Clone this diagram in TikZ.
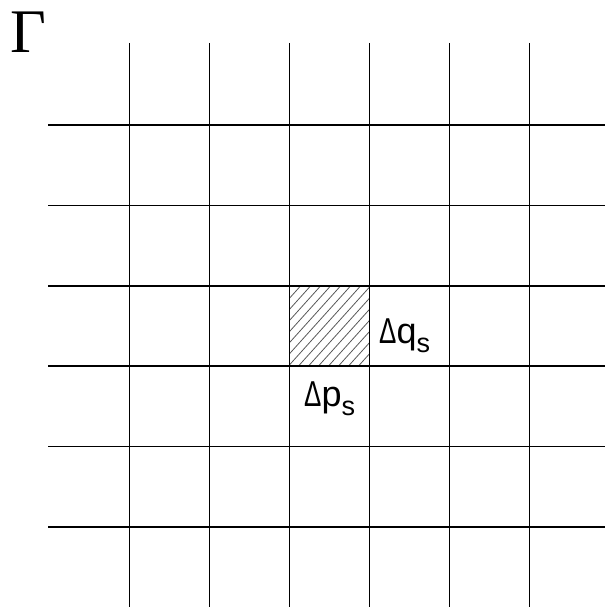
\documentclass[tikz,border=0pt]{standalone}
\usepackage{graphicx}
\usepackage{fontspec}
\setmainfont{Liberation Serif}
\newfontfamily\labfont{Liberation Sans}
\newcommand{\dlt}{\scalebox{0.72}[1]{Δ}}
\newcommand{\subs}[1]{\raisebox{-9pt}{\fontsize{27}{27}\selectfont #1}}
\begin{document}
\begin{tikzpicture}[x=1pt,y=-1pt,
  gridline/.style={line width=1.2pt,black},
  hatch/.style={black!65,line width=0.8pt},
  lab/.style={inner sep=0pt,anchor=base west,font=\labfont\fontsize{36}{36}\selectfont}]
\useasboundingbox (0,0) rectangle (605,607);
\foreach \x in {129.5,209.5,289.5,369.5,449.5,529.5} \draw[gridline] (\x,43) -- (\x,607);
\foreach \y in {125,205.5,286,366,446.5,527} \draw[gridline] (48,\y) -- (605,\y);
\begin{scope}
\clip (289.5,286) rectangle (369.5,366);
\foreach \k in {0,10,...,170} \draw[hatch] (289.5+\k-90,376) -- (289.5+\k,276);
\end{scope}
\draw[gridline] (289.5,286) rectangle (369.5,366);
\node[inner sep=0pt,anchor=base west,font=\fontsize{62}{62}\selectfont] (gamma) at (10,53) {Γ};
\node[lab] (dq) at (379,343) {\dlt q\subs{s}};
\node[lab] (dp) at (304,406) {\dlt p\subs{s}};
\end{tikzpicture}
\end{document}
